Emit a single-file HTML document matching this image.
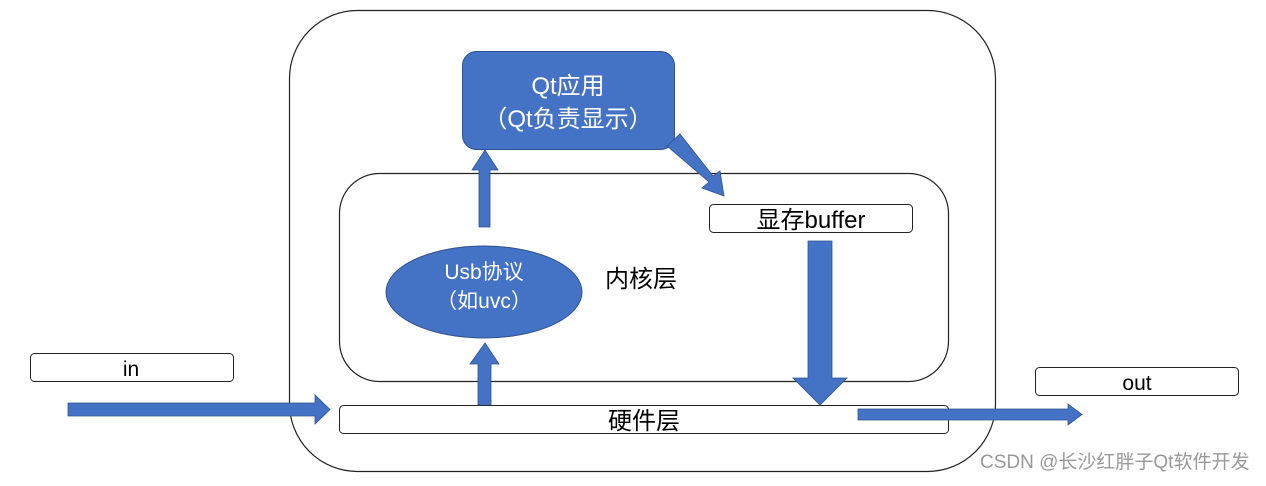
<!DOCTYPE html>
<html><head><meta charset="utf-8"><style>
body{margin:0;background:#fff;}
svg text{font-family:"Liberation Sans","Noto Sans CJK SC",sans-serif;}
</style></head><body>
<svg width="1266" height="481" viewBox="0 0 1266 481" xmlns="http://www.w3.org/2000/svg">
<rect width="1266" height="481" fill="#fff"/>
<rect x="289.5" y="10.5" width="706" height="461" rx="68" fill="none" stroke="#222" stroke-width="1.2"/>
<rect x="339.5" y="173.5" width="609" height="208" rx="40" fill="none" stroke="#222" stroke-width="1.2"/>
<rect x="462.5" y="51.5" width="212" height="98" rx="14" fill="#4472C4" stroke="#2F528F" stroke-width="1"/>
<text x="568" y="94" font-size="24" fill="#fff" text-anchor="middle">Qt应用</text>
<text x="568" y="127" font-size="24" fill="#fff" text-anchor="middle">（Qt负责显示）</text>
<rect x="709.5" y="204.5" width="203" height="28" rx="4" fill="#fff" stroke="#222"/>
<text x="811" y="228" font-size="24" fill="#000" text-anchor="middle">显存buffer</text>
<ellipse cx="484" cy="292" rx="98" ry="46" fill="#4472C4" stroke="#2F528F"/>
<text x="484" y="279" font-size="21" fill="#fff" text-anchor="middle">Usb协议</text>
<text x="484" y="308" font-size="21" fill="#fff" text-anchor="middle">（如uvc）</text>
<text x="605" y="287" font-size="24" fill="#000">内核层</text>
<rect x="339.5" y="405.5" width="609" height="28" rx="4" fill="#fff" stroke="#222"/>
<text x="644" y="429" font-size="24" fill="#000" text-anchor="middle">硬件层</text>
<rect x="30.5" y="353.5" width="203" height="28" rx="4" fill="#fff" stroke="#222"/>
<text x="131" y="376" font-size="21" fill="#000" text-anchor="middle">in</text>
<rect x="1035.5" y="367.5" width="203" height="28" rx="4" fill="#fff" stroke="#222"/>
<text x="1137" y="390" font-size="21" fill="#000" text-anchor="middle">out</text>
<g fill="#4472C4" stroke="#2F528F" stroke-width="0.8">
<polygon points="479,227 490,227 490,170 498,170 485,150 472,170 479,170"/>
<polygon points="478,405 491,405 491,364 499,364 485,343 470,364 478,364"/>
<polygon points="808,241 832,241 832,378 847,378 820,405 793,378 808,378"/>
<polygon points="68,403 315,403 315,395 330,409.5 315,424 315,416 68,416"/>
<polygon points="858,409 1068,409 1068,404 1082,414.5 1068,425 1068,420 858,420"/>
<polygon points="667,146 680,134 713,176 720,171 724,196 702,188 709,182"/>
</g>
<text x="980" y="468" font-size="19" fill="#999">CSDN @长沙红胖子Qt软件开发</text>
</svg>
</body></html>
